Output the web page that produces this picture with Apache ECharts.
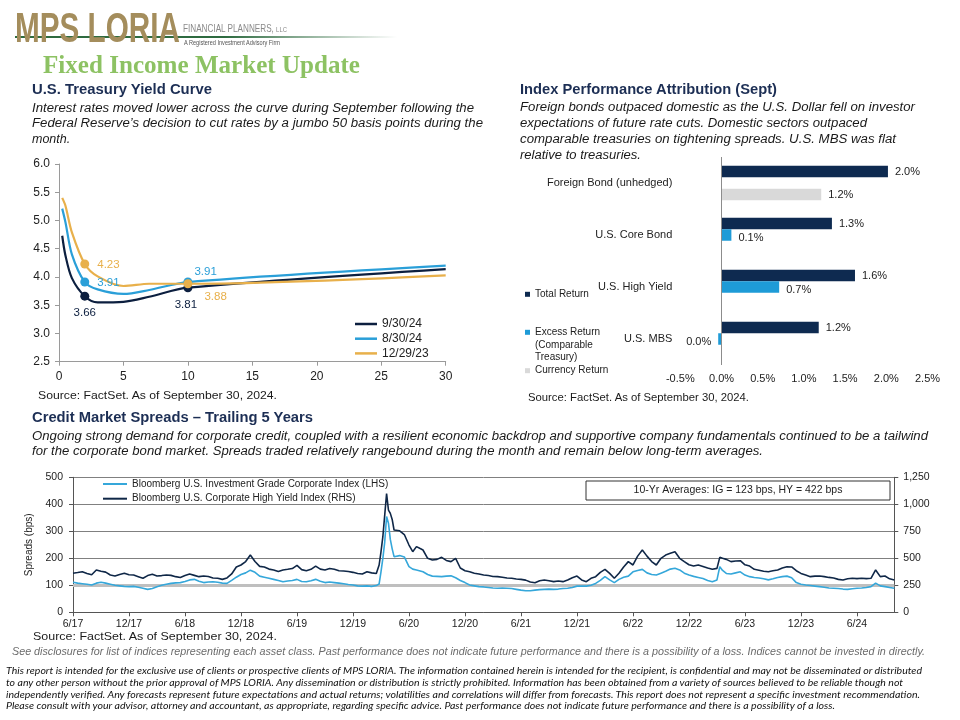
<!DOCTYPE html>
<html>
<head>
<meta charset="utf-8">
<script src="https://cdn.jsdelivr.net/npm/echarts/dist/echarts.min.js"></script>
<style>
  html,body{margin:0;padding:0;background:#fff;}
  body{width:960px;height:720px;overflow:hidden;position:relative;font-family:'Liberation Sans',Arial,sans-serif;}
  #chart{position:absolute;left:0;top:0;width:960px;height:720px;z-index:1;}
  .t{position:absolute;white-space:nowrap;line-height:1;transform-origin:0 50%;z-index:2;color:#1a1a1a;}
  .i{font-style:italic;}
  .b{font-weight:bold;}
  .h{color:#1C2E54;font-weight:bold;font-size:14.5px;}
</style>
</head>
<body>
<div id="chart"></div>

<!-- header / logo -->
<div class="t" style="left:15px;top:36px;width:382px;height:2px;background:linear-gradient(to right,#2E6B40 0%,#2E6B40 55%,rgba(46,107,64,0) 100%);z-index:1"></div>
<div class="t fit b" data-w="165" style="left:15px;top:7px;font-size:42px;color:#A48D5C;">MPS LORIA</div>
<div class="t fit" data-w="104" style="left:183px;top:23px;font-size:11px;color:#8A8A8A;">FINANCIAL PLANNERS, <span style="font-size:8px">LLC</span></div>
<div class="t fit" data-w="96" style="left:184px;top:39px;font-size:7px;color:#555;">A Registered Investment Advisory Firm</div>
<div class="t fit b" data-w="317" style="left:43px;top:52px;font-size:26px;color:#8DC263;font-family:'Liberation Serif','DejaVu Serif',serif;">Fixed Income Market Update</div>

<!-- left panel text -->
<div class="t fit h" data-w="180" style="left:32px;top:82px;">U.S. Treasury Yield Curve</div>
<div class="t fit i" data-w="442" style="left:32px;top:101.75px;font-size:12.5px;">Interest rates moved lower across the curve during September following the</div>
<div class="t fit i" data-w="451" style="left:32px;top:117.25px;font-size:12.5px;">Federal Reserve’s decision to cut rates by a jumbo 50 basis points during the</div>
<div class="t i" style="left:32px;top:132.75px;font-size:12.5px;">month.</div>
<div class="t fit" data-w="239" style="left:38px;top:389.5px;font-size:11px;">Source: FactSet. As of September 30, 2024.</div>

<!-- right panel text -->
<div class="t fit h" data-w="257" style="left:520px;top:82px;">Index Performance Attribution (Sept)</div>
<div class="t fit i" data-w="395" style="left:520px;top:101.25px;font-size:12.5px;">Foreign bonds outpaced domestic as the U.S. Dollar fell on investor</div>
<div class="t fit i" data-w="347" style="left:520px;top:117.25px;font-size:12.5px;">expectations of future rate cuts. Domestic sectors outpaced</div>
<div class="t fit i" data-w="376" style="left:520px;top:133.25px;font-size:12.5px;">comparable treasuries on tightening spreads. U.S. MBS was flat</div>
<div class="t fit i" data-w="121" style="left:520px;top:148.75px;font-size:12.5px;">relative to treasuries.</div>
<div class="t fit" data-w="221" style="left:528px;top:391.75px;font-size:10.5px;">Source: FactSet. As of September 30, 2024.</div>

<!-- bottom panel text -->
<div class="t fit h" data-w="281" style="left:32px;top:409.75px;">Credit Market Spreads – Trailing 5 Years</div>
<div class="t fit i" data-w="896" style="left:32px;top:429.75px;font-size:12.5px;">Ongoing strong demand for corporate credit, coupled with a resilient economic backdrop and supportive company fundamentals continued to be a tailwind</div>
<div class="t fit i" data-w="731" style="left:32px;top:444.75px;font-size:12.5px;">for the corporate bond market. Spreads traded relatively rangebound during the month and remain below long-term averages.</div>
<div class="t fit" data-w="244" style="left:33px;top:630.75px;font-size:10.5px;">Source: FactSet. As of September 30, 2024.</div>

<!-- footer -->
<div class="t fit i" data-w="913" style="left:12px;top:647px;font-size:10px;color:#6b6b6b;">See disclosures for list of indices representing each asset class. Past performance does not indicate future performance and there is a possibility of a loss. Indices cannot be invested in directly.</div>
<div class="t fit i" data-w="916" style="left:6px;top:665.5px;font-size:9px;color:#111;font-family:Lato,'Open Sans',sans-serif;">This report is intended for the exclusive use of clients or prospective clients of MPS LORIA. The information contained herein is intended for the recipient, is confidential and may not be disseminated or distributed</div>
<div class="t fit i" data-w="897" style="left:6px;top:677.5px;font-size:9px;color:#111;font-family:Lato,'Open Sans',sans-serif;">to any other person without the prior approval of MPS LORIA. Any dissemination or distribution is strictly prohibited. Information has been obtained from a variety of sources believed to be reliable though not</div>
<div class="t fit i" data-w="914" style="left:6px;top:689.5px;font-size:9px;color:#111;font-family:Lato,'Open Sans',sans-serif;">independently verified. Any forecasts represent future expectations and actual returns; volatilities and correlations will differ from forecasts. This report does not represent a specific investment recommendation.</div>
<div class="t fit i" data-w="829" style="left:6px;top:701px;font-size:9px;color:#111;font-family:Lato,'Open Sans',sans-serif;">Please consult with your advisor, attorney and accountant, as appropriate, regarding specific advice. Past performance does not indicate future performance and there is a possibility of a loss.</div>

<script>
// ---------------- DATA ----------------
// U.S. Treasury yield curve (maturity in years)
const yieldMaturities = [0.25, 0.5, 1, 2, 3, 5, 7, 10, 30];
const yield093024 = [4.73, 4.38, 3.98, 3.66, 3.55, 3.56, 3.65, 3.81, 4.14];
const yield083024 = [5.21, 4.97, 4.40, 3.91, 3.78, 3.70, 3.77, 3.91, 4.20];
const yield122923 = [5.40, 5.26, 4.79, 4.23, 4.01, 3.84, 3.88, 3.88, 4.03];

// Index performance attribution (Sept), %
const barCategories = ['Foreign Bond (unhedged)', 'U.S. Core Bond', 'U.S. High Yield', 'U.S. MBS'];
const totalReturn = [2.02, 1.34, 1.62, 1.18];
const excessReturn = [null, 0.12, 0.70, -0.04];
const currencyReturn = [1.21, null, null, null];

// Credit spreads: x = months since Jun 2017
const spreadMonths = [0,0.5,1,1.5,2,2.5,3,3.5,4,4.5,5,5.5,6,6.5,7,7.5,8,8.5,9,9.5,10,10.5,11,11.5,12,12.5,13,13.5,14,14.5,15,15.5,16,16.5,17,17.5,18,18.5,19,19.5,20,20.5,21,21.5,22,22.5,23,23.5,24,24.5,25,25.5,26,26.5,27,27.5,28,28.5,29,29.5,30,30.5,31,31.5,32,32.5,
  32.8,33,33.2,33.4,33.6,33.8,34,34.2,34.4,34.6,35,35.5,36,36.4,36.8,37.2,37.5,
  38,38.5,39,39.5,40,40.5,41,41.5,42,42.5,43,43.5,44,44.5,45,45.5,46,46.5,47,47.5,48,48.5,49,49.5,50,50.5,51,51.5,52,52.5,53,53.5,54,54.5,55,55.5,56,56.5,57,57.5,58,58.5,59,59.5,60,60.5,61,61.5,62,62.5,63,63.5,64,64.5,65,65.5,66,66.5,67,67.5,68,68.5,69,
  69.3,69.6,
  70,70.5,71,71.5,72,72.5,73,73.5,74,74.5,75,75.5,76,76.5,77,77.5,78,78.5,79,79.5,80,80.5,81,81.5,82,82.5,83,83.5,84,84.5,85,85.5,86,86.5,87,87.5,88];
const igSpread = [111,108,106,104,101,108,111,108,104,100,
  98,96,95,96,93,89,85,88,95,100,
  104,107,109,110,114,120,122,115,110,112,
  113,111,108,107,118,130,140,146,156,148,
  134,130,126,122,118,113,116,118,122,114,
  113,117,122,115,110,112,110,108,106,103,
  101,98,97,98,96,99,
  105,150,200,260,355,330,270,235,206,212,210,205,169,160,157,153,150,
  140,134,133,132,134,135,128,118,110,101,
  98,95,94,92,90,89,90,89,88,85,
  82,80,80,82,84,85,86,85,86,88,
  89,92,97,97,97,100,107,118,132,120,
  110,122,130,134,150,155,159,146,140,138,
  145,152,160,163,157,145,138,133,129,125,
  118,113,120,
  169,155,
  144,142,146,150,138,132,129,127,124,120,
  124,129,132,134,128,110,104,101,99,97,
  95,93,90,89,88,86,85,87,89,90,
  92,95,108,98,95,92,89];
const hySpread = [362,368,376,360,348,392,380,372,345,336,
  350,362,348,345,330,315,340,352,336,340,
  345,342,330,323,340,354,342,330,336,332,
  318,315,305,318,355,420,438,470,530,470,
  425,420,400,392,378,392,398,405,435,395,
  385,398,428,400,392,405,398,385,382,378,
  370,360,354,375,365,360,
  438,560,700,900,1100,947,916,860,762,747,755,720,623,561,608,590,577,
  500,485,490,509,480,469,500,410,385,376,
  362,354,345,340,332,330,325,318,315,308,
  305,298,280,274,292,299,292,284,290,284,
  300,320,336,300,284,315,330,370,398,360,
  315,361,420,469,438,520,577,520,470,438,
  500,530,546,561,500,469,440,428,438,425,
  410,398,407,
  509,500,
  490,469,475,478,440,428,398,390,380,376,
  385,392,410,422,420,385,360,345,330,335,
  336,330,323,318,305,299,310,315,312,315,
  312,315,392,330,336,310,299];
const igAverage = 123, hyAverage = 422;

// ---------------- CHART ----------------
const FONT = 'Liberation Sans';
const C930 = '#0C1F3F', C830 = '#2A9FD8', C1229 = '#E8B04B';
const NAVY = '#0E2A50', BLUE = '#1E9BD7', GREY = '#D9D9D9';
const HYC = '#0F2747', IGC = '#35A7DA';

function curve(name, vals, color, labelCfg) {
  return {
    type: 'line', name, xAxisIndex: 0, yAxisIndex: 0,
    smooth: 0.3, symbol: 'circle',
    lineStyle: { width: 2.2, color }, itemStyle: { color },
    emphasis: { disabled: true },
    data: yieldMaturities.map((m, i) => {
      const d = { value: [m, vals[i]] };
      if (labelCfg[m]) {
        d.symbolSize = 9;
        d.label = Object.assign({ show: true, color, fontSize: 11.5, fontFamily: FONT,
          formatter: p => p.value[1].toFixed(2) }, labelCfg[m]);
      } else {
        d.symbol = 'none'; d.symbolSize = 0;
      }
      return d;
    })
  };
}

const pct = v => (Math.abs(v) < 0.05 ? 0 : v).toFixed(1) + '%';
function barData(arr) {
  return arr.map(v => (v !== null && v < 0) ? { value: v, label: { position: 'left' } } : v);
}
const barLabel = { show: true, position: 'right', distance: 7, fontSize: 11, color: '#222', fontFamily: FONT,
  formatter: p => pct(p.value) };

const monthLabel = m => {
  const mm = ((5 + m) % 12) + 1;
  const yy = 17 + Math.floor((5 + m) / 12);
  return mm + '/' + yy;
};

const smallLegend = { orient: 'vertical', left: 525, padding: 0, icon: 'rect', itemWidth: 5, itemHeight: 5,
  textStyle: { fontSize: 10, color: '#222', lineHeight: 10 } };

const option = {
  animation: false,
  textStyle: { fontFamily: FONT },
  grid: [
    { left: 59, right: 960 - 445.7, top: 164, bottom: 720 - 361.7 },
    { left: 680.3, right: 960 - 927.5, top: 157, bottom: 720 - 365 },
    { left: 73, right: 960 - 894.3, top: 477.3, bottom: 720 - 612.3 }
  ],
  xAxis: [
    { type: 'value', gridIndex: 0, min: 0, max: 30, interval: 5,
      axisLine: { show: true, lineStyle: { color: '#9a9a9a' } },
      axisTick: { show: true, length: 4, lineStyle: { color: '#9a9a9a' } },
      splitLine: { show: false },
      axisLabel: { fontSize: 12, color: '#222', margin: 9 } },
    { type: 'value', gridIndex: 1, min: -0.5, max: 2.5, interval: 0.5,
      axisLine: { show: false }, axisTick: { show: false }, splitLine: { show: false },
      axisLabel: { fontSize: 11, color: '#222', margin: 8, formatter: v => v.toFixed(1) + '%' } },
    { type: 'value', gridIndex: 2, min: 0, max: 88, interval: 6,
      axisLine: { show: true, lineStyle: { color: '#555' } },
      axisTick: { show: true, length: 4, lineStyle: { color: '#555' } },
      splitLine: { show: false },
      axisLabel: { fontSize: 10.5, color: '#222', margin: 6, showMaxLabel: false,
        formatter: v => (v % 6 === 0 ? monthLabel(v) : '') } }
  ],
  yAxis: [
    { type: 'value', gridIndex: 0, min: 2.5, max: 6, interval: 0.5,
      axisLine: { show: true, lineStyle: { color: '#9a9a9a' } },
      axisTick: { show: true, length: 4, lineStyle: { color: '#9a9a9a' } },
      splitLine: { show: false },
      axisLabel: { fontSize: 12, color: '#222', margin: 9, formatter: v => v.toFixed(1) } },
    { type: 'category', gridIndex: 1, data: barCategories, inverse: true,
      axisLine: { show: false }, axisTick: { show: false },
      axisLabel: { fontSize: 11, color: '#222', margin: 8 } },
    { type: 'value', gridIndex: 2, min: 0, max: 500, interval: 100, position: 'left',
      name: 'Spreads (bps)', nameLocation: 'middle', nameGap: 36,
      nameTextStyle: { fontSize: 10, color: '#222' },
      axisLine: { show: true, lineStyle: { color: '#555' } },
      axisTick: { show: true, length: 4, lineStyle: { color: '#555' } },
      splitLine: { show: true, lineStyle: { color: '#808080', width: 1 } },
      axisLabel: { fontSize: 10.5, color: '#222', margin: 10 } },
    { type: 'value', gridIndex: 2, min: 0, max: 1250, interval: 250, position: 'right',
      axisLine: { show: true, lineStyle: { color: '#555' } },
      axisTick: { show: true, length: 4, lineStyle: { color: '#555' } },
      splitLine: { show: false },
      axisLabel: { fontSize: 10.5, color: '#222', margin: 9,
        formatter: v => v.toString().replace(/\B(?=(\d{3})+(?!\d))/g, ',') } }
  ],
  legend: [
    { data: ['9/30/24', '8/30/24', '12/29/23'], orient: 'vertical', left: 355, top: 318, padding: 0,
      icon: 'rect', itemWidth: 22, itemHeight: 2.5, itemGap: 2.7,
      textStyle: { fontSize: 12, color: '#222', lineHeight: 12 } },
    Object.assign({ data: ['Total Return'], top: 289.3 }, smallLegend),
    Object.assign({ data: ['Excess Return (Comparable Treasury)'], top: 327.3, formatter: () => 'Excess Return' }, smallLegend),
    Object.assign({ data: ['Currency Return'], top: 365.7 }, smallLegend),
    { data: ['Bloomberg U.S. Investment Grade Corporate Index (LHS)', 'Bloomberg U.S. Corporate High Yield Index (RHS)'],
      orient: 'vertical', left: 103, top: 479, padding: 0, icon: 'rect', itemWidth: 24, itemHeight: 2,
      itemGap: 4.7, textStyle: { fontSize: 10, color: '#222', lineHeight: 10 } }
  ],
  graphic: [
    { type: 'text', left: 535, top: 339.5, silent: true,
      style: { text: '(Comparable\nTreasury)', font: '10px ' + FONT, fill: '#222', lineHeight: 11.5 } },
    { type: 'rect', silent: true, z: 10,
      shape: { x: 586, y: 481, width: 304, height: 19 },
      style: { fill: '#fff', stroke: '#333', lineWidth: 1 } },
    { type: 'text', silent: true, z: 11, x: 738, y: 490.5,
      style: { text: '10-Yr Averages: IG = ' + igAverage + ' bps, HY = ' + hyAverage + ' bps',
        font: '10.5px ' + FONT, fill: '#222', align: 'center', verticalAlign: 'middle' } }
  ],
  series: [
    curve('9/30/24', yield093024, C930, {
      2: { position: 'bottom', distance: 6 },
      10: { position: 'bottom', distance: 6.5, offset: [-2, 0] } }),
    curve('8/30/24', yield083024, C830, {
      2: { position: 'right', distance: 8, offset: [0, 1] },
      10: { position: 'right', distance: 2, offset: [0, -10] } }),
    curve('12/29/23', yield122923, C1229, {
      2: { position: 'right', distance: 8, offset: [0, 1] },
      10: { position: 'right', distance: 12, offset: [0, 13] } }),

    { type: 'bar', name: 'Total Return', xAxisIndex: 1, yAxisIndex: 1, barWidth: 11.5, barGap: '0%',
      itemStyle: { color: NAVY }, label: barLabel, data: barData(totalReturn),
      markLine: { silent: true, symbol: 'none', label: { show: false },
        lineStyle: { color: '#8c8c8c', width: 1, type: 'solid' }, data: [{ xAxis: 0 }] } },
    { type: 'bar', name: 'Excess Return (Comparable Treasury)', xAxisIndex: 1, yAxisIndex: 1, barWidth: 11.5, barGap: '0%',
      itemStyle: { color: BLUE }, label: Object.assign({}, barLabel, { offset: [0, 3] }), data: barData(excessReturn) },
    { type: 'bar', name: 'Currency Return', xAxisIndex: 1, yAxisIndex: 1, barWidth: 11.5, barGap: '0%',
      itemStyle: { color: GREY }, label: barLabel, data: barData(currencyReturn) },

    { type: 'line', name: 'Bloomberg U.S. Corporate High Yield Index (RHS)', xAxisIndex: 2, yAxisIndex: 3,
      symbol: 'none', lineStyle: { width: 1.6, color: HYC }, itemStyle: { color: HYC },
      data: spreadMonths.map((m, i) => [m, hySpread[i]]),
      markLine: { z: 1, silent: true, symbol: 'none', label: { show: false },
        lineStyle: { color: '#BFBFBF', width: 3, type: 'solid' }, data: [{ yAxis: 250 }] } },
    { type: 'line', name: 'Bloomberg U.S. Investment Grade Corporate Index (LHS)', xAxisIndex: 2, yAxisIndex: 2,
      symbol: 'none', lineStyle: { width: 1.6, color: IGC }, itemStyle: { color: IGC },
      data: spreadMonths.map((m, i) => [m, igSpread[i]]) }
  ]
};

const chart = echarts.init(document.getElementById('chart'));
chart.setOption(option);

// fit header/paragraph text lines to the widths measured on the reference
document.querySelectorAll('.fit').forEach(el => {
  const w = el.getBoundingClientRect().width;
  const t = parseFloat(el.dataset.w);
  if (w > 0) el.style.transform = 'scaleX(' + (t / w) + ')';
});
</script>
</body>
</html>
